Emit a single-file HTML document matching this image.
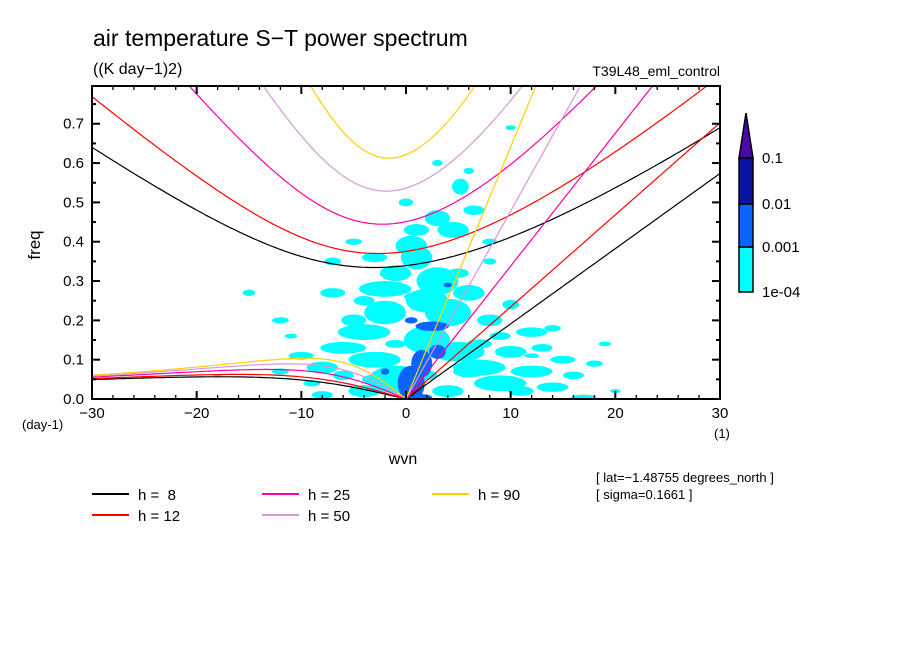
<!DOCTYPE html>
<html><head><meta charset="utf-8"><style>
body{margin:0;background:#fff;}
svg text{font-family:"Liberation Sans",sans-serif;fill:#000;}
</style></head><body>
<svg id="chart" width="904" height="654" viewBox="0 0 904 654">
<defs><clipPath id="plotclip"><rect x="92" y="86" width="628" height="313"/></clipPath></defs>
<text x="93" y="46" font-size="23">air temperature S−T power spectrum</text>
<text x="93" y="74" font-size="16">((K day−1)2)</text>
<text x="720" y="76" font-size="14" text-anchor="end">T39L48_eml_control</text>
<g id="heat" clip-path="url(#plotclip)"></g>
<g id="curves" clip-path="url(#plotclip)"></g>
<g id="axes"></g>
<text x="40" y="245" font-size="17" text-anchor="middle" transform="rotate(-90 40 245)">freq</text>
<text x="403" y="464" font-size="16" text-anchor="middle">wvn</text>
<text x="22" y="429" font-size="13">(day-1)</text>
<text x="714" y="438" font-size="13">(1)</text>
<g id="colorbar"></g>
<g id="legend"></g>
<text x="596" y="482" font-size="13">[ lat=−1.48755 degrees_north ]</text>
<text x="596" y="499" font-size="13">[ sigma=0.1661 ]</text>
</svg>
<script>
const depths = [8, 12, 25, 50, 90];
const depthColors = ["#000000", "#ff0000", "#ff00a0", "#d898d8", "#ffd000"];
const xTicks = [-30, -20, -10, 0, 10, 20, 30];
const yTicks = [0, 0.1, 0.2, 0.3, 0.4, 0.5, 0.6, 0.7];
const cbLabels = ["1e-04", "0.001", "0.01", "0.1"];
const levelColors = ["#00ffff", "#0a64ff", "#0a14a0", "#4a0aa8"];
// spectrum blobs: wavenumber, frequency, half-width (wvn), half-height (freq)
const blobWvn1 = [-1,-4,-3,-6,-4,-2,-5,-2,-7,-1,-3,1,1,3,4.5,5.2,6.5,3,4,2,5,7,9,10,12,14,12,15,6,8,10,-8,-10,-12,-9,-15,-12,-7,17,8,-5,3,10,-18,-11,0.5,2,
  11,13,16,18,9,6,4,7,-6,-8,-3,2,5,8,-1,1,14,19,12,20,-4,0,6];
const blobFrq1 = [0.05,0.02,0.1,0.13,0.17,0.22,0.2,0.28,0.27,0.32,0.36,0.36,0.43,0.46,0.43,0.54,0.48,0.3,0.22,0.15,0.12,0.08,0.04,0.12,0.07,0.03,0.17,0.1,0.27,0.2,0.24,0.08,0.11,0.07,0.04,0.27,0.2,0.35,0.005,0.35,0.4,0.6,0.69,0.06,0.16,0.39,0.25,
  0.02,0.13,0.06,0.09,0.16,0.07,0.02,0.14,0.06,0.01,0.05,0.06,0.32,0.4,0.14,0.26,0.18,0.14,0.11,0.02,0.25,0.5,0.58];
const blobDw1 = [2.5,1.5,2.5,2.2,2.5,2,1.2,2.5,1.2,1.5,1.2,1.5,1.2,1.2,1.5,0.8,1,2,2.2,2.2,2.5,2.5,2.5,1.5,2,1.5,1.5,1.2,1.5,1.2,0.8,1.5,1.2,0.8,0.8,0.6,0.8,0.8,1.2,0.6,0.8,0.5,0.5,0.4,0.6,1.5,2,
  1.2,1,1,0.8,1,1.5,1.5,1.2,1,1,1.2,1,1,0.7,1,1.2,0.8,0.6,0.7,0.5,1,0.7,0.5];
const blobDf1 = [0.035,0.015,0.02,0.015,0.02,0.03,0.015,0.02,0.012,0.02,0.012,0.03,0.015,0.02,0.02,0.02,0.012,0.035,0.035,0.035,0.025,0.02,0.02,0.015,0.015,0.012,0.012,0.01,0.02,0.015,0.012,0.015,0.01,0.008,0.008,0.008,0.008,0.01,0.006,0.008,0.008,0.008,0.006,0.004,0.006,0.025,0.03,
  0.012,0.01,0.01,0.008,0.01,0.015,0.015,0.012,0.012,0.01,0.012,0.012,0.012,0.008,0.01,0.012,0.008,0.006,0.006,0.005,0.012,0.01,0.008];
const blobWvn2 = [0.5,1.5,3,2.5,0.5,4,-2,1];
const blobFrq2 = [0.04,0.09,0.12,0.185,0.2,0.29,0.07,0.005];
const blobDw2 = [1.3,1,0.8,1.6,0.6,0.4,0.4,1.5];
const blobDf2 = [0.045,0.035,0.018,0.012,0.008,0.006,0.008,0.008];
const blobWvn3 = [0.5];
const blobFrq3 = [0.015];
const blobDw3 = [0.3];
const blobDf3 = [0.008];

const NS = "http://www.w3.org/2000/svg";
const X0 = 92, X1 = 720, Y0 = 399, YTOP = 86;
const xMin = -30, xMax = 30, yMin = 0, yMax = 0.796;
function sx(v){ return X0 + (v - xMin) / (xMax - xMin) * (X1 - X0); }
function sy(v){ return Y0 - (v - yMin) / (yMax - yMin) * (Y0 - YTOP); }
function mk(tag, parent){ const e = document.createElementNS(NS, tag); parent.appendChild(e); return e; }

const heat = document.getElementById("heat");
function drawBlobs(ws, fs, dws, dfs, lvl){
  for (let i = 0; i < ws.length; i++) {
    const e = mk("ellipse", heat);
    
    
    e.setAttribute("cx", sx(ws[i])); e.setAttribute("cy", sy(fs[i]));
    e.setAttribute("rx", Math.abs(sx(dws[i]) - sx(0))); e.setAttribute("ry", Math.abs(sy(0) - sy(dfs[i])));
    e.setAttribute("fill", levelColors[lvl]);
  }
}
drawBlobs(blobWvn1, blobFrq1, blobDw1, blobDf1, 0);
drawBlobs(blobWvn2, blobFrq2, blobDw2, blobDf2, 1);
drawBlobs(blobWvn3, blobFrq3, blobDw3, blobDf3, 2);

const g = 9.81, beta = 2.29e-11, a = 6.371e6, toCpd = 86400 / (2 * Math.PI);
const curves = document.getElementById("curves");
function poly(pts, color){
  const p = mk("polyline", curves);
  
  
  p.setAttribute("points", pts.map(q => sx(q[0]).toFixed(1) + "," + sy(q[1]).toFixed(1)).join(" "));
  p.setAttribute("fill", "none"); p.setAttribute("stroke", color); p.setAttribute("stroke-width", "1.2");
}
depths.forEach((h, i) => {
  const c = Math.sqrt(g * h), col = depthColors[i];
  const ig = [], ro = [], kv = [];
  for (let s = -30; s <= 30.001; s += 0.25) {
    const k = s / a;
    let w = Math.sqrt(k * k * c * c + 3 * beta * c) * 1.2;
    for (let it = 0; it < 40; it++) {
      const f = w * w * w - (k * k * c * c + 3 * beta * c) * w - k * beta * c * c;
      const d = 3 * w * w - (k * k * c * c + 3 * beta * c);
      w -= f / d;
    }
    ig.push([s, w * toCpd]);
    if (s <= 0) ro.push([s, -beta * k / (k * k + 3 * beta / c) * toCpd]);
    if (s >= 0) kv.push([s, k * c * toCpd]);
  }
  poly(ig, col); poly(ro, col); poly(kv, col);
});

const ax = document.getElementById("axes");
const fr = mk("rect", ax);


fr.setAttribute("x", X0); fr.setAttribute("y", YTOP); fr.setAttribute("width", X1 - X0); fr.setAttribute("height", Y0 - YTOP);
fr.setAttribute("fill", "none"); fr.setAttribute("stroke", "#000"); fr.setAttribute("stroke-width", "2");
function line(x1, y1, x2, y2, w){
  const l = mk("line", ax);
  
  
  l.setAttribute("x1", x1); l.setAttribute("y1", y1); l.setAttribute("x2", x2); l.setAttribute("y2", y2);
  l.setAttribute("stroke", "#000"); l.setAttribute("stroke-width", w || 1.5);
}
for (let v = -30; v <= 30; v += 2) {
  const major = v % 10 === 0, L = major ? 8 : 4;
  line(sx(v), Y0, sx(v), Y0 - L, major ? 2 : 1.3); line(sx(v), YTOP, sx(v), YTOP + L, major ? 2 : 1.3);
}
for (let j = 0; j <= 15; j++) {
  const v = j * 0.05, major = j % 2 === 0, L = major ? 8 : 4;
  line(X0, sy(v), X0 + L, sy(v), 2); line(X1, sy(v), X1 - L, sy(v), 2);
}
xTicks.forEach(v => {
  const t = mk("text", ax);
  
  
  t.setAttribute("x", sx(v)); t.setAttribute("y", 418); t.setAttribute("font-size", "15"); t.setAttribute("text-anchor", "middle");
  t.textContent = v < 0 ? "−" + (-v) : String(v);
});
yTicks.forEach(v => {
  const t = mk("text", ax);
  
  
  t.setAttribute("x", 84); t.setAttribute("y", sy(v) + 5); t.setAttribute("font-size", "15"); t.setAttribute("text-anchor", "end");
  t.textContent = v.toFixed(1);
});

const cb = document.getElementById("colorbar");
const cbX = 739, cbW = 14, cbEdges = [292, 247, 204, 158];
for (let i = 0; i < 3; i++) {
  const r = mk("rect", cb);
  
  
  r.setAttribute("x", cbX); r.setAttribute("y", cbEdges[i + 1]); r.setAttribute("width", cbW); r.setAttribute("height", cbEdges[i] - cbEdges[i + 1]);
  r.setAttribute("fill", levelColors[i]); r.setAttribute("stroke", "#000"); r.setAttribute("stroke-width", "1.5");
}
const tri = mk("polygon", cb);


tri.setAttribute("points", `${cbX},158 ${cbX + cbW},158 ${cbX + cbW / 2},113`);
tri.setAttribute("fill", levelColors[3]); tri.setAttribute("stroke", "#000"); tri.setAttribute("stroke-width", "1.5");
cbLabels.forEach((s, i) => {
  const t = mk("text", cb);
  
  
  t.setAttribute("x", 762); t.setAttribute("y", cbEdges[i] + 5); t.setAttribute("font-size", "15");
  t.textContent = s;
});

const lg = document.getElementById("legend");
const legX = [92, 262, 432], legY = [494, 515];
const legText = ["h =  8", "h = 12", "h = 25", "h = 50", "h = 90"];
depths.forEach((h, i) => {
  const col = Math.floor(i / 2), row = i % 2;
  const l = mk("line", lg);
  
  
  l.setAttribute("x1", legX[col]); l.setAttribute("x2", legX[col] + 37);
  l.setAttribute("y1", legY[row]); l.setAttribute("y2", legY[row]);
  l.setAttribute("stroke", depthColors[i]); l.setAttribute("stroke-width", "2");
  const t = mk("text", lg);
  
  
  t.setAttribute("x", legX[col] + 46); t.setAttribute("y", legY[row] + 6); t.setAttribute("font-size", "15");
  t.style.whiteSpace = "pre";
  t.textContent = legText[i];
});
</script>
</body></html>
